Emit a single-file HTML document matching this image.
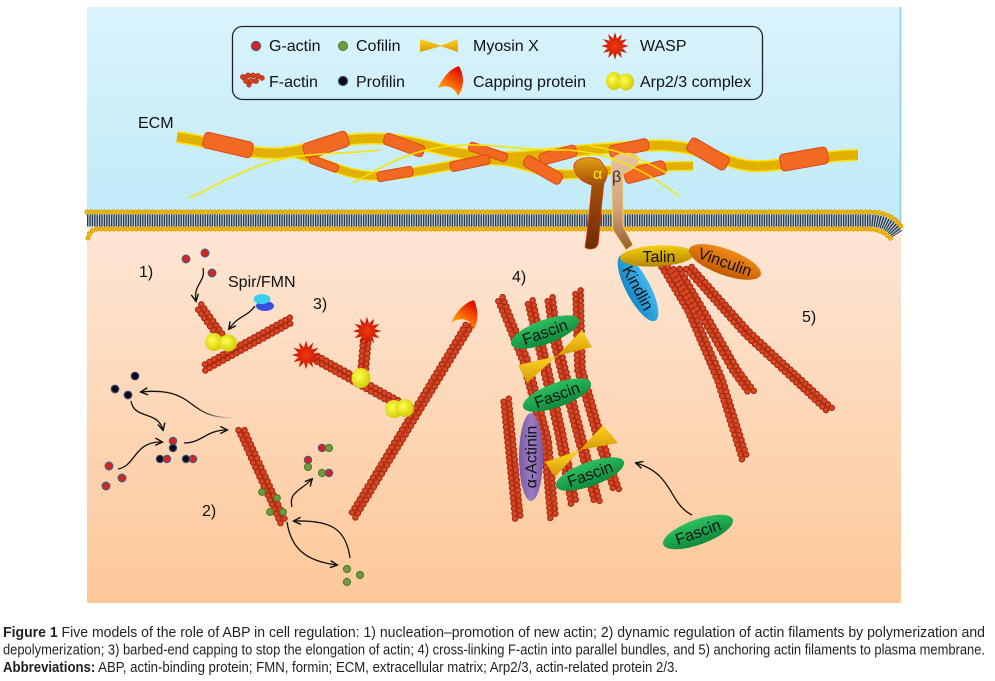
<!DOCTYPE html>
<html><head><meta charset="utf-8">
<style>
html,body{margin:0;padding:0;background:#fff;}
svg{display:block;}
.t{font-family:"Liberation Sans",Arial,sans-serif;font-size:16px;fill:#111;}
.fa{fill:none;stroke:#a02a10;stroke-width:6.5;stroke-linecap:round;stroke-dasharray:0 5.1;}
.fb{fill:none;stroke:#dc4422;stroke-width:4.3;stroke-linecap:round;stroke-dasharray:0 5.1;}
.o{stroke-dashoffset:2.55;}
.ar{fill:none;stroke:#111;stroke-width:1.3;marker-end:url(#ah);}
.or{fill:#f26a22;stroke:#dc4818;stroke-width:1;}
.ga{fill:#e02020;stroke:#4a5a78;stroke-width:1.3;}
.gc{fill:#6c9c3c;stroke:#4a7828;stroke-width:1;}
.gp{fill:#0a0a18;stroke:#3a4a68;stroke-width:1.2;}
.cap{font-family:"Liberation Sans",Arial,sans-serif;font-size:14.5px;fill:#231f20;}
</style></head><body>
<svg width="995" height="681" viewBox="0 0 995 681" xmlns="http://www.w3.org/2000/svg">
<defs>
<linearGradient id="gB" x1="0" y1="0" x2="0" y2="1"><stop offset="0" stop-color="#daf4fc"/><stop offset="1" stop-color="#c0eaf7"/></linearGradient>
<linearGradient id="gP" x1="0" y1="0" x2="0" y2="1"><stop offset="0" stop-color="#fde6d6"/><stop offset="1" stop-color="#fdc898"/></linearGradient>
<radialGradient id="gY" cx="0.4" cy="0.4" r="0.65"><stop offset="0" stop-color="#ffff50"/><stop offset="1" stop-color="#d0c800"/></radialGradient>
<radialGradient id="gW" cx="0.5" cy="0.5" r="0.5"><stop offset="0" stop-color="#f03a10"/><stop offset="1" stop-color="#c41000"/></radialGradient>
<linearGradient id="gC" x1="0" y1="1" x2="0.6" y2="0"><stop offset="0" stop-color="#ffd000"/><stop offset="0.5" stop-color="#ff7000"/><stop offset="1" stop-color="#e01000"/></linearGradient>
<linearGradient id="gM" x1="0" y1="0" x2="0" y2="1"><stop offset="0" stop-color="#ffd428"/><stop offset="1" stop-color="#d69a00"/></linearGradient>
<linearGradient id="gF" x1="0" y1="0" x2="0" y2="1"><stop offset="0" stop-color="#2cc060"/><stop offset="1" stop-color="#0e8a3c"/></linearGradient>
<linearGradient id="gT" x1="0" y1="0" x2="0" y2="1"><stop offset="0" stop-color="#f2cf10"/><stop offset="1" stop-color="#b48400"/></linearGradient>
<linearGradient id="gV" x1="0" y1="0" x2="0" y2="1"><stop offset="0" stop-color="#f08a18"/><stop offset="1" stop-color="#c45a00"/></linearGradient>
<linearGradient id="gK" x1="0" y1="0" x2="0" y2="1"><stop offset="0" stop-color="#40b8ec"/><stop offset="1" stop-color="#1488c8"/></linearGradient>
<linearGradient id="gAl" x1="0" y1="0" x2="1" y2="0"><stop offset="0" stop-color="#7a5aa8"/><stop offset="0.5" stop-color="#9a7cc0"/><stop offset="1" stop-color="#7a5aa8"/></linearGradient>
<linearGradient id="gIa" x1="0" y1="0" x2="0" y2="1"><stop offset="0" stop-color="#e2a010"/><stop offset="0.3" stop-color="#a24e0a"/><stop offset="1" stop-color="#6e2c06"/></linearGradient>
<linearGradient id="gIb" x1="0" y1="0" x2="0" y2="1"><stop offset="0" stop-color="#e8c4a4"/><stop offset="0.6" stop-color="#d0a07a"/><stop offset="1" stop-color="#9a5a28"/></linearGradient>
<linearGradient id="gA" gradientUnits="userSpaceOnUse" x1="236" y1="0" x2="196" y2="0"><stop offset="0" stop-color="#fde6d6"/><stop offset="1" stop-color="#111"/></linearGradient>
<marker id="ah" viewBox="0 0 10 10" refX="8.5" refY="5" markerWidth="9" markerHeight="9" markerUnits="userSpaceOnUse" orient="auto"><path d="M1,1 L9,5 L1,9" fill="none" stroke="#111" stroke-width="1.6"/></marker>
<polygon id="star" points="11,0 5.8,1.55 9.53,5.5 4.24,4.24 5.5,9.53 1.55,5.8 0,11 -1.55,5.8 -5.5,9.53 -4.24,4.24 -9.53,5.5 -5.8,1.55 -11,0 -5.8,-1.55 -9.53,-5.5 -4.24,-4.24 -5.5,-9.53 -1.55,-5.8 0,-11 1.55,-5.8 5.5,-9.53 4.24,-4.24 9.53,-5.5 5.8,-1.55"/>
</defs>

<!-- backgrounds -->
<rect x="87" y="7" width="814" height="218" fill="url(#gB)"/>
<rect x="87" y="222" width="814" height="381" fill="url(#gP)"/>
<line x1="900.5" y1="7" x2="900.5" y2="228" stroke="#8ccbe3" stroke-width="1.5"/>

<!-- ECM -->
<text class="t" x="138" y="128">ECM</text>
<g fill="none" stroke-linecap="butt">
<path d="M177,137 C220,143 255,158 290,152 S345,136 385,139 S440,152 480,156 S545,153 600,149 S665,143 695,150 S735,168 765,166 S825,155 858,155" stroke="#fbe400" stroke-width="12"/>
<path d="M285,151 C315,156 345,178 380,176 S440,166 480,161 S540,178 575,174 S650,166 693,166" stroke="#fbe400" stroke-width="10"/>
<path d="M177,137 C220,143 255,158 290,152 S345,136 385,139 S440,152 480,156 S545,153 600,149 S665,143 695,150 S735,168 765,166 S825,155 858,155" stroke="#e2b000" stroke-width="9"/>
<path d="M285,151 C315,156 345,178 380,176 S440,166 480,161 S540,178 575,174 S650,166 693,166" stroke="#e2b000" stroke-width="7.5"/>
</g>
<g>
<rect class="or" x="-25" y="-8" width="50" height="16" rx="4" transform="translate(228,145) rotate(13)"/>
<rect class="or" x="-23" y="-8" width="46" height="16" rx="4" transform="translate(326,145) rotate(-18)"/>
<rect class="or" x="-15" y="-4" width="30" height="8" rx="3" transform="translate(324,164) rotate(20)"/>
<rect class="or" x="-21" y="-6" width="42" height="12" rx="4" transform="translate(404,145) rotate(20)"/>
<rect class="or" x="-18" y="-5" width="36" height="10" rx="3" transform="translate(395,174) rotate(-10)"/>
<rect class="or" x="-20" y="-4.5" width="40" height="9" rx="3" transform="translate(488,152) rotate(18)"/>
<rect class="or" x="-20" y="-5" width="40" height="10" rx="3" transform="translate(470,163) rotate(-12)"/>
<rect class="or" x="-19" y="-6" width="38" height="12" rx="4" transform="translate(558,155) rotate(-15)"/>
<rect class="or" x="-21" y="-6" width="42" height="12" rx="4" transform="translate(543,170) rotate(30)"/>
<rect class="or" x="-20" y="-6" width="40" height="12" rx="4" transform="translate(629,148) rotate(-12)"/>
<rect class="or" x="-21" y="-7" width="42" height="14" rx="4" transform="translate(645,172) rotate(-15)"/>
<rect class="or" x="-22" y="-7.5" width="44" height="15" rx="4" transform="translate(708,154) rotate(30)"/>
<rect class="or" x="-24" y="-8.5" width="48" height="17" rx="4" transform="translate(804,159) rotate(-10)"/>
</g>
<g fill="none" stroke="#f8e600" stroke-width="1.6">
<path d="M190,198 C230,178 262,160 300,156 S360,153 380,150"/>
<path d="M353,183 C385,165 410,150 450,146 S510,150 560,150"/>
</g>

<!-- Legend -->
<rect x="232.5" y="26.5" width="530" height="73" rx="10" fill="none" stroke="#222" stroke-width="1.3"/>
<circle class="ga" cx="256" cy="46" r="4.5"/>
<text class="t" x="269" y="51">G-actin</text>
<circle class="gc" cx="343" cy="46" r="4.5"/>
<text class="t" x="356" y="51">Cofilin</text>
<polygon points="420,39 420,52 442,46" fill="url(#gM)"/>
<polygon points="458,39 458,52 440,46" fill="url(#gM)"/>
<text class="t" x="473" y="51">Myosin X</text>
<use href="#star" transform="translate(615,46) scale(1.25)" fill="url(#gW)"/>
<text class="t" x="640" y="51">WASP</text>
<g fill="#d44020" stroke="#a02c10" stroke-width="0.6">
<circle cx="243" cy="77" r="2.6"/><circle cx="248" cy="75.5" r="2.6"/><circle cx="253" cy="75.5" r="2.6"/><circle cx="258" cy="76" r="2.6"/><circle cx="262" cy="78" r="2.4"/>
<circle cx="246" cy="81" r="2.6"/><circle cx="251" cy="81" r="2.6"/><circle cx="256" cy="81" r="2.6"/><circle cx="249" cy="85" r="2.2"/>
</g>
<text class="t" x="269" y="87">F-actin</text>
<circle class="gp" cx="343" cy="81" r="4.5"/>
<text class="t" x="356" y="87">Profilin</text>
<path d="M438,88 C444,76 450,69 459,66 C464,75 465,86 458,96 C455,88 448,84 438,88 Z" fill="url(#gC)"/>
<text class="t" x="473" y="87">Capping protein</text>
<ellipse cx="614" cy="81" rx="8" ry="9" fill="url(#gY)"/>
<ellipse cx="626" cy="82" rx="8" ry="8.5" fill="url(#gY)"/>
<text class="t" x="640" y="87">Arp2/3 complex</text>

<!-- Membrane -->
<g fill="none">
<path d="M87,220.5 L871,220.5 Q889,221.5 897,234" stroke="#c4d2da" stroke-width="12"/>
<path d="M87,220.5 L871,220.5 Q889,221.5 897,234" stroke="#28384a" stroke-width="12" stroke-dasharray="1.3 1.1"/>
<path d="M87,212 L872,212 Q893,213 902,228" stroke="#c89200" stroke-width="5" stroke-linecap="round" stroke-dasharray="0 4.4"/>
<path d="M87,212 L872,212 Q893,213 902,228" stroke="#f4b800" stroke-width="3.8" stroke-linecap="round" stroke-dasharray="0 4.4"/>
<path d="M88,238 Q90,229 98,229 L870,229 Q884,230 892,240" stroke="#c89200" stroke-width="5" stroke-linecap="round" stroke-dasharray="0 4.4"/>
<path d="M88,238 Q90,229 98,229 L870,229 Q884,230 892,240" stroke="#f4b800" stroke-width="3.8" stroke-linecap="round" stroke-dasharray="0 4.4"/>
</g>

<!-- Integrin -->
<path d="M574,168 C572,158 590,155 600,160 L607,170 C608,176 606,180 604,183 C601,205 600,228 598,244 C596,250 588,250 585,247 C588,230 590,205 592,185 C584,183 576,178 574,168 Z" fill="url(#gIa)" stroke="#e03000" stroke-width="0.8"/>
<path d="M611,164 C610,152 636,150 639,158 C640,166 630,170 623,174 L623,226 L633,245 L626,250 L613,230 Z" fill="url(#gIb)" stroke="#f0e060" stroke-width="0.8"/>
<g fill="none" stroke="#f8e600" stroke-width="1.4">
<path d="M560,150 C600,150 640,165 680,197"/>
<path d="M590,146 C620,150 645,160 668,174"/>
</g>
<text class="t" x="593" y="179" style="fill:#ffe000">α</text>
<text class="t" x="612" y="182" style="fill:#333">β</text>

<!-- Model 5 filaments -->
<g>
<polyline class="fa" transform="translate(-2.5,1.1)" points="664,266 690,310 720,380 745,460"/>
<polyline class="fa o" transform="translate(2.5,-1.1)" points="664,266 690,310 720,380 745,460"/>
<polyline class="fa" transform="translate(-2.4,1.3)" points="676,268 702,312 735,370 752,393"/>
<polyline class="fa o" transform="translate(2.4,-1.3)" points="676,268 702,312 735,370 752,393"/>
<polyline class="fa" transform="translate(-1.95,1.95)" points="688,267 747,333 830,410"/>
<polyline class="fa o" transform="translate(1.95,-1.95)" points="688,267 747,333 830,410"/>
<polyline class="fb" transform="translate(-2.5,1.1)" points="664,266 690,310 720,380 745,460"/>
<polyline class="fb o" transform="translate(2.5,-1.1)" points="664,266 690,310 720,380 745,460"/>
<polyline class="fb" transform="translate(-2.4,1.3)" points="676,268 702,312 735,370 752,393"/>
<polyline class="fb o" transform="translate(2.4,-1.3)" points="676,268 702,312 735,370 752,393"/>
<polyline class="fb" transform="translate(-1.95,1.95)" points="688,267 747,333 830,410"/>
<polyline class="fb o" transform="translate(1.95,-1.95)" points="688,267 747,333 830,410"/>
</g>
<ellipse cx="0" cy="0" rx="37" ry="12" fill="url(#gK)" transform="translate(638,288) rotate(62)"/>
<text class="t" text-anchor="middle" transform="translate(638,288) rotate(62)" y="5.5">Kindlin</text>
<ellipse cx="0" cy="0" rx="37" ry="10.5" fill="url(#gT)" transform="translate(657,256) rotate(-3)"/>
<text class="t" text-anchor="middle" x="659" y="262">Talin</text>
<ellipse cx="0" cy="0" rx="38" ry="13" fill="url(#gV)" transform="translate(725,262) rotate(20)"/>
<text class="t" text-anchor="middle" transform="translate(725,262) rotate(20)" y="5.5">Vinculin</text>
<text class="t" x="802" y="322">5)</text>

<!-- Model 1 -->
<text class="t" x="139" y="277">1)</text>
<circle class="ga" cx="186" cy="259" r="3.8"/>
<circle class="ga" cx="205" cy="253" r="3.8"/>
<circle class="ga" cx="212" cy="273" r="3.8"/>
<path class="ar" d="M203,268 C206,282 193,284 196,301"/>
<text class="t" x="228" y="287">Spir/FMN</text>
<ellipse cx="265" cy="306" rx="9" ry="5" fill="#3a4ee0"/>
<ellipse cx="262" cy="299" rx="8.5" ry="5" fill="#3cd0f0"/>
<path class="ar" d="M255,306 C246,318 240,314 229,329"/>
<g>
<polyline class="fa" transform="translate(2.3,-1.6)" points="199,306 224,341"/>
<polyline class="fa o" transform="translate(-2.3,1.6)" points="199,306 224,341"/>
<polyline class="fa" transform="translate(1.3,2.4)" points="204,368 293,319"/>
<polyline class="fa o" transform="translate(-1.3,-2.4)" points="204,368 293,319"/>
<polyline class="fb" transform="translate(2.3,-1.6)" points="199,306 224,341"/>
<polyline class="fb o" transform="translate(-2.3,1.6)" points="199,306 224,341"/>
<polyline class="fb" transform="translate(1.3,2.4)" points="204,368 293,319"/>
<polyline class="fb o" transform="translate(-1.3,-2.4)" points="204,368 293,319"/>
</g>
<ellipse cx="214" cy="342" rx="9" ry="9" fill="url(#gY)"/>
<ellipse cx="228" cy="343" rx="9" ry="8.5" fill="url(#gY)"/>

<!-- Model 3 -->
<text class="t" x="313" y="309">3)</text>
<g>
<polyline class="fa" transform="translate(2.4,1.45)" points="353,516 470,323"/>
<polyline class="fa o" transform="translate(-2.4,-1.45)" points="353,516 470,323"/>
<polyline class="fa" transform="translate(-1.3,2.4)" points="314,357 412,411"/>
<polyline class="fa o" transform="translate(1.3,-2.4)" points="314,357 412,411"/>
<polyline class="fa" transform="translate(2.75,0)" points="362,384 366,338"/>
<polyline class="fa o" transform="translate(-2.75,0)" points="362,384 366,338"/>
<polyline class="fb" transform="translate(2.4,1.45)" points="353,516 470,323"/>
<polyline class="fb o" transform="translate(-2.4,-1.45)" points="353,516 470,323"/>
<polyline class="fb" transform="translate(-1.3,2.4)" points="314,357 412,411"/>
<polyline class="fb o" transform="translate(1.3,-2.4)" points="314,357 412,411"/>
<polyline class="fb" transform="translate(2.75,0)" points="362,384 366,338"/>
<polyline class="fb o" transform="translate(-2.75,0)" points="362,384 366,338"/>
</g>
<path d="M451,323 C457,310 466,302 474,300 C478,309 479,320 474,329 C470,319 461,316 451,323 Z" fill="url(#gC)"/>
<use href="#star" transform="translate(306,355) scale(1.3)" fill="url(#gW)"/>
<use href="#star" transform="translate(367,331) scale(1.3)" fill="url(#gW)"/>
<ellipse cx="361" cy="378" rx="9.5" ry="10" fill="url(#gY)"/>
<ellipse cx="394" cy="409" rx="9" ry="9" fill="url(#gY)"/>
<ellipse cx="405" cy="408" rx="9" ry="9" fill="url(#gY)"/>

<!-- Model 2 -->
<text class="t" x="202" y="516">2)</text>
<circle class="gp" cx="135" cy="376" r="3.8"/>
<circle class="gp" cx="115" cy="389" r="3.8"/>
<circle class="gp" cx="128" cy="395" r="3.8"/>
<path d="M234,418 C205,418 198,408 186,400 S160,390 141,392" fill="none" stroke="url(#gA)" stroke-width="1.3" marker-end="url(#ah)"/>
<path class="ar" d="M131,401 C134,420 158,410 163,430"/>
<circle class="ga" cx="173" cy="441" r="3.6"/>
<circle class="gp" cx="173" cy="448" r="3.6"/>
<circle class="gp" cx="160" cy="459" r="3.6"/>
<circle class="ga" cx="167" cy="459" r="3.6"/>
<circle class="gp" cx="186" cy="459" r="3.6"/>
<circle class="ga" cx="193" cy="459" r="3.6"/>
<circle class="ga" cx="109" cy="466" r="3.8"/>
<circle class="ga" cx="122" cy="478" r="3.8"/>
<circle class="ga" cx="106" cy="486" r="3.8"/>
<path class="ar" d="M118,469 C136,466 134,441 162,442"/>
<path class="ar" d="M184,443 C202,443 206,430 227,430"/>
<g>
<polyline class="fa" transform="translate(-2.5,1.15)" points="241,429 283,522"/>
<polyline class="fa o" transform="translate(2.5,-1.15)" points="241,429 283,522"/>
<polyline class="fb" transform="translate(-2.5,1.15)" points="241,429 283,522"/>
<polyline class="fb o" transform="translate(2.5,-1.15)" points="241,429 283,522"/>
</g>
<circle class="gc" cx="262" cy="492" r="3.4"/>
<circle class="gc" cx="277" cy="498" r="3.4"/>
<circle class="gc" cx="270" cy="512" r="3.4"/>
<circle class="gc" cx="283" cy="512" r="3.4"/>
<path class="ar" d="M292,507 C288,492 302,490 312,479"/>
<circle class="ga" cx="322" cy="448" r="3.6"/>
<circle class="gc" cx="329" cy="448" r="3.6"/>
<circle class="ga" cx="308" cy="460" r="3.6"/>
<circle class="gc" cx="308" cy="467" r="3.6"/>
<circle class="gc" cx="322" cy="473" r="3.6"/>
<circle class="ga" cx="329" cy="473" r="3.6"/>
<path class="ar" d="M287,522 C291,548 305,561 337,565"/>
<path class="ar" d="M350,558 C346,528 330,520 294,521"/>
<circle class="gc" cx="347" cy="569" r="3.6"/>
<circle class="gc" cx="360" cy="575" r="3.6"/>
<circle class="gc" cx="347" cy="582" r="3.6"/>

<!-- Model 4 -->
<text class="t" x="512" y="282">4)</text>
<g>
<polyline class="fa" transform="translate(2.65,-0.85)" points="500,298 525,360 546,440 553,518"/>
<polyline class="fa o" transform="translate(-2.65,0.85)" points="500,298 525,360 546,440 553,518"/>
<polyline class="fa" transform="translate(2.65,-0.7)" points="530,301 542,352 560,432 574,505"/>
<polyline class="fa o" transform="translate(-2.65,0.7)" points="530,301 542,352 560,432 574,505"/>
<polyline class="fa" transform="translate(2.65,-0.7)" points="550,298 556,342 576,422 597,502"/>
<polyline class="fa o" transform="translate(-2.65,0.7)" points="550,298 556,342 576,422 597,502"/>
<polyline class="fa" transform="translate(2.65,-0.6)" points="578,291 580,370 600,440 617,492"/>
<polyline class="fa o" transform="translate(-2.65,0.6)" points="578,291 580,370 600,440 617,492"/>
<polyline class="fa" transform="translate(2.75,-0.25)" points="506,399 518,520"/>
<polyline class="fa o" transform="translate(-2.75,0.25)" points="506,399 518,520"/>
<polyline class="fb" transform="translate(2.65,-0.85)" points="500,298 525,360 546,440 553,518"/>
<polyline class="fb o" transform="translate(-2.65,0.85)" points="500,298 525,360 546,440 553,518"/>
<polyline class="fb" transform="translate(2.65,-0.7)" points="530,301 542,352 560,432 574,505"/>
<polyline class="fb o" transform="translate(-2.65,0.7)" points="530,301 542,352 560,432 574,505"/>
<polyline class="fb" transform="translate(2.65,-0.7)" points="550,298 556,342 576,422 597,502"/>
<polyline class="fb o" transform="translate(-2.65,0.7)" points="550,298 556,342 576,422 597,502"/>
<polyline class="fb" transform="translate(2.65,-0.6)" points="578,291 580,370 600,440 617,492"/>
<polyline class="fb o" transform="translate(-2.65,0.6)" points="578,291 580,370 600,440 617,492"/>
<polyline class="fb" transform="translate(2.75,-0.25)" points="506,399 518,520"/>
<polyline class="fb o" transform="translate(-2.75,0.25)" points="506,399 518,520"/>
</g>
<polygon points="557,356 582,330 592,347" fill="url(#gM)"/>
<polygon points="557,356 518,365 527,383" fill="url(#gM)"/>
<polygon points="580,450 603,425 618,443" fill="url(#gM)"/>
<polygon points="580,450 545,462 555,477" fill="url(#gM)"/>
<ellipse cx="0" cy="0" rx="36" ry="12" fill="url(#gF)" transform="translate(545,332) rotate(-20)"/>
<text class="t" text-anchor="middle" transform="translate(545,332) rotate(-20)" y="5.5">Fascin</text>
<ellipse cx="0" cy="0" rx="36" ry="12" fill="url(#gF)" transform="translate(557,395) rotate(-20)"/>
<text class="t" text-anchor="middle" transform="translate(557,395) rotate(-20)" y="5.5">Fascin</text>
<ellipse cx="531" cy="457" rx="12" ry="44" fill="url(#gAl)"/>
<text class="t" text-anchor="middle" transform="translate(531,457) rotate(-90)" y="5.5">α-Actinin</text>
<ellipse cx="0" cy="0" rx="36" ry="12" fill="url(#gF)" transform="translate(590,474) rotate(-20)"/>
<text class="t" text-anchor="middle" transform="translate(590,474) rotate(-20)" y="5.5">Fascin</text>
<path class="ar" d="M692,515 C668,503 674,474 636,463"/>
<ellipse cx="0" cy="0" rx="37" ry="12.5" fill="url(#gF)" transform="translate(698,532) rotate(-20)"/>
<text class="t" text-anchor="middle" transform="translate(698,532) rotate(-20)" y="5.5">Fascin</text>

<!-- Caption -->
<text class="cap" x="3" y="637" textLength="982" lengthAdjust="spacingAndGlyphs"><tspan font-weight="bold">Figure 1</tspan> Five models of the role of ABP in cell regulation: 1) nucleation–promotion of new actin; 2) dynamic regulation of actin filaments by polymerization and</text>
<text class="cap" x="3" y="654.5" textLength="982" lengthAdjust="spacingAndGlyphs">depolymerization; 3) barbed-end capping to stop the elongation of actin; 4) cross-linking F-actin into parallel bundles, and 5) anchoring actin filaments to plasma membrane.</text>
<text class="cap" x="3" y="672" textLength="675" lengthAdjust="spacingAndGlyphs"><tspan font-weight="bold">Abbreviations:</tspan> ABP, actin-binding protein; FMN, formin; ECM, extracellular matrix; Arp2/3, actin-related protein 2/3.</text>
</svg>
</body></html>
